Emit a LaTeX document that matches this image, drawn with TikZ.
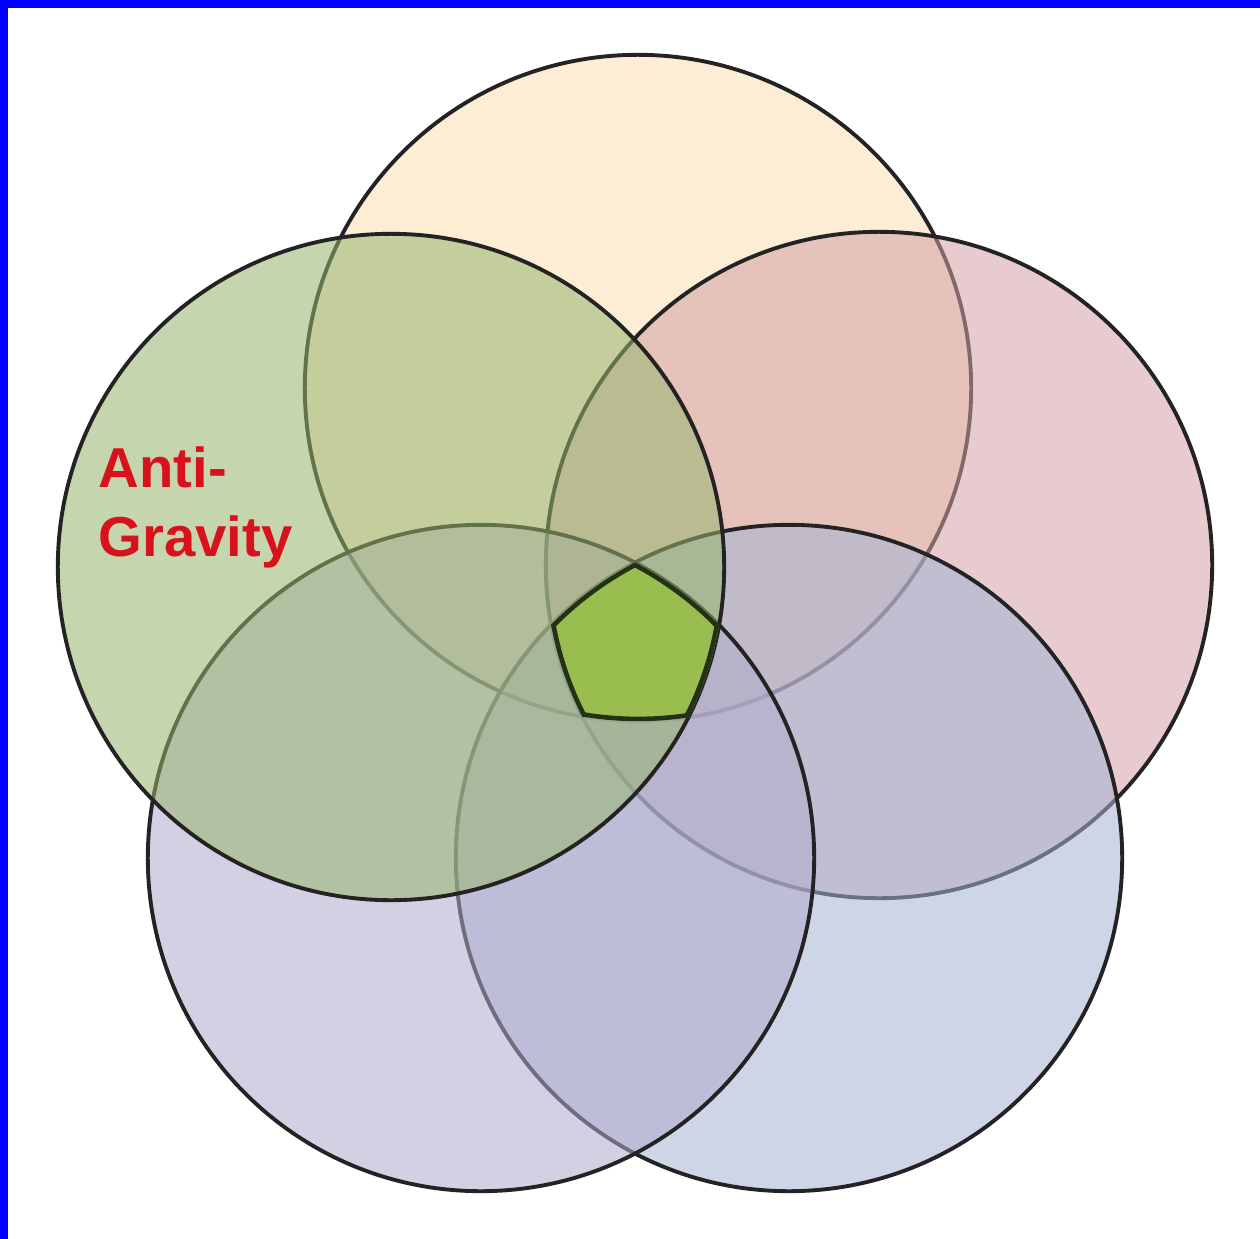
\documentclass[tikz,border=0pt]{standalone}
\usepackage{fontspec}
\setmainfont{Liberation Sans}
\definecolor{vennyel}{RGB}{250,224,177}
\definecolor{vennred}{RGB}{213,162,166}
\definecolor{vennblu}{RGB}{164,180,213}
\definecolor{vennlav}{RGB}{178,170,204}
\definecolor{venngrn}{RGB}{151,182,110}
\definecolor{coregrn}{RGB}{154,189,80}
\definecolor{rimgray}{RGB}{35,35,35}
\definecolor{coredrk}{RGB}{35,50,20}
\definecolor{antired}{RGB}{215,18,28}
\definecolor{framblu}{RGB}{0,0,255}
\begin{document}
\begin{tikzpicture}[x=0.01cm, y=-0.01cm]
  \useasboundingbox (0,0) rectangle (1260,1239);
  \fill[white] (0,0) rectangle (1260,1239);
  \fill[framblu] (0,0) rectangle (1260,8);
  \fill[framblu] (0,0) rectangle (8,1239);
  % five sets, drawn back to front
  \foreach \n/\cx/\cy/\col in {top/638/388/vennyel, rgt/879/565/vennred, brt/789/858/vennblu, blf/481/858/vennlav, lft/391/567/venngrn} {
    \coordinate (\n) at (\cx,\cy);
    \draw[draw=rimgray, line width=1.1pt, fill=\col, fill opacity=0.55] (\n) circle (3.33cm);
  }
  % common part of all five
  \begin{scope}
    \clip (top) circle (3.33cm);
    \clip (rgt) circle (3.33cm);
    \clip (brt) circle (3.33cm);
    \clip (blf) circle (3.33cm);
    \clip (lft) circle (3.33cm);
    \fill[coregrn] (top) circle (3.33cm);
    \foreach \n in {top, rgt, brt, blf, lft}
      \draw[coredrk, line width=2.6pt] (\n) circle (3.33cm);
  \end{scope}
  \node[anchor=north west, inner sep=0, align=left, text=antired,
        font=\bfseries\fontsize{16}{19.5}\selectfont] (antigrav) at (98,446) {Anti-\\Gravity};
\end{tikzpicture}
\end{document}
